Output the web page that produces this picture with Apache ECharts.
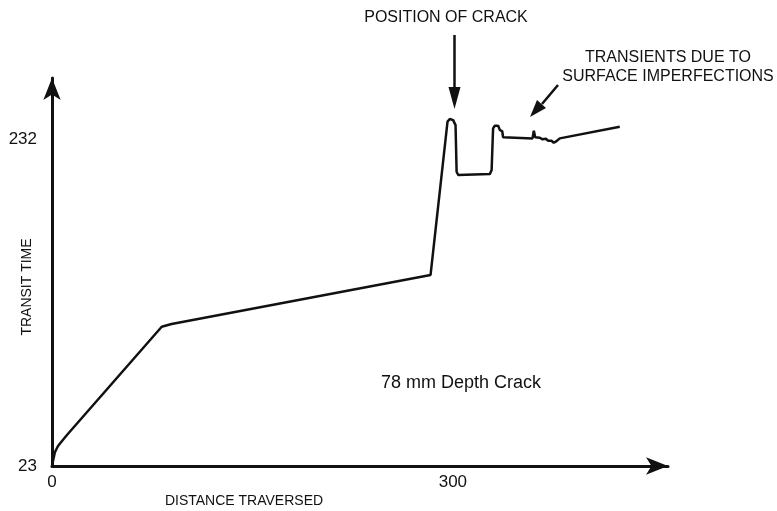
<!DOCTYPE html>
<html>
<head>
<meta charset="utf-8">
<style>
  html, body { margin: 0; padding: 0; background: #fff; }
  #chart { width: 777px; height: 511px; }
</style>
<script src="https://cdn.jsdelivr.net/npm/echarts@6/dist/echarts.min.js"></script>
</head>
<body>
<div id="chart"></div>
<script>
// distance traversed (x) and transit time (y)
const distance = [0, 0.75, 2.2, 4.5, 7.5, 11.2, 82.1, 89.5, 283.3,
    296.0, 297.7, 300.2, 302.0, 302.8, 304.0, 327.7, 329.0, 330.1, 331.4, 333.9,
    335.2, 336.9, 337.6, 338.5, 359.6, 360.6, 361.6, 365.1, 367.1, 369.6, 371.3,
    373.8, 375.5, 377.0, 380.0, 424.9];
const transit = [23, 26.2, 31.9, 35.8, 39.0, 42.8, 112.0, 113.8, 145.1,
    243.1, 244.8, 244.1, 240.9, 211.1, 209.0, 209.6, 212.2, 238.8, 240.5, 240.5,
    237.7, 237.1, 233.1, 232.4, 232.4, 237.3, 233.1, 232.8, 231.8, 232.2, 230.9,
    230.9, 229.6, 230.3, 232.4, 239.9];
const xTicks = [0, 300];
const yTicks = [23, 232];

const font = 'Liberation Sans, Arial, Helvetica, sans-serif';
const ink = '#111';

const chart = echarts.init(document.getElementById('chart'));
chart.setOption({
    animation: false,
    grid: { left: 52, right: 109, top: 78, bottom: 45 },
    xAxis: {
        type: 'value',
        min: 0,
        max: 461,
        splitLine: { show: false },
        axisTick: { show: false },
        axisLine: {
            onZero: false,
            symbol: ['none', 'arrow'],
            symbolSize: [13, 22],
            lineStyle: { color: ink, width: 3 }
        },
        axisLabel: {
            customValues: xTicks,
            margin: 8,
            color: ink,
            fontFamily: font,
            fontSize: 17
        }
    },
    yAxis: {
        type: 'value',
        min: 23,
        max: 271,
        splitLine: { show: false },
        axisTick: { show: false },
        axisLine: {
            show: true,
            onZero: false,
            symbol: ['none', 'arrow'],
            symbolSize: [13, 22],
            lineStyle: { color: ink, width: 3 }
        },
        axisLabel: {
            customValues: yTicks,
            margin: 15,
            color: ink,
            fontFamily: font,
            fontSize: 17
        }
    },
    series: [{
        type: 'line',
        data: distance.map((d, i) => [d, transit[i]]),
        showSymbol: false,
        smooth: false,
        lineStyle: { color: ink, width: 2.5 }
    }],
    graphic: [
        { type: 'text', x: 244, y: 501,
          style: { text: 'DISTANCE TRAVERSED', fill: ink, font: '14px ' + font, align: 'center', verticalAlign: 'middle' } },
        { type: 'text', x: 27, y: 287, rotation: Math.PI / 2,
          style: { text: 'TRANSIT TIME', fill: ink, font: '14px ' + font, align: 'center', verticalAlign: 'middle' } },
        { type: 'text', x: 461, y: 383,
          style: { text: '78 mm Depth Crack', fill: ink, font: '18px ' + font, align: 'center', verticalAlign: 'middle' } },
        { type: 'text', x: 446, y: 18,
          style: { text: 'POSITION OF CRACK', fill: ink, font: '16px ' + font, align: 'center', verticalAlign: 'middle' } },
        { type: 'text', x: 668, y: 67,
          style: { text: 'TRANSIENTS DUE TO\nSURFACE IMPERFECTIONS', fill: ink, font: '16px ' + font,
                   align: 'center', verticalAlign: 'middle', lineHeight: 19 } },
        // crack arrow
        { type: 'line', shape: { x1: 454.5, y1: 35, x2: 454.5, y2: 90 }, style: { stroke: ink, lineWidth: 2.5 } },
        { type: 'polygon', shape: { points: [[448.5, 87], [460.5, 87], [454.5, 109]] }, style: { fill: ink } },
        // transients arrow
        { type: 'line', shape: { x1: 558, y1: 85, x2: 542, y2: 104 }, style: { stroke: ink, lineWidth: 2.5 } },
        { type: 'polygon', shape: { points: [[537, 100], [546, 108], [530, 117]] }, style: { fill: ink } }
    ]
});
window.addEventListener('resize', () => chart.resize());
</script>
</body>
</html>
